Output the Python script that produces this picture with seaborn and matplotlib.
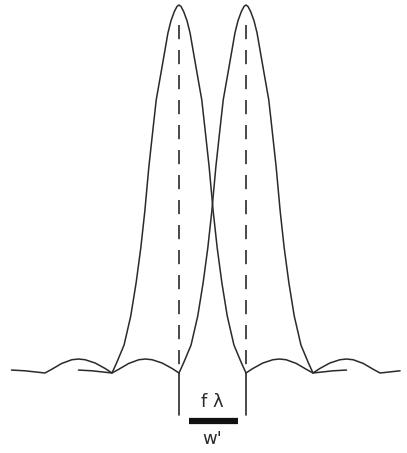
import numpy as np
import pandas as pd
import seaborn as sns
import matplotlib.pyplot as plt

# diffraction lobe profile (offset from peak in zero-spacings, height)
lobe_u = [0.0, 0.03, 0.07, 0.12, 0.165, 0.25, 0.34, 0.39, 0.45, 0.51, 0.57, 0.64, 0.72, 0.82, 0.93, 1.0,
          1.1, 1.25, 1.4, 1.5, 1.6, 1.75, 1.9, 2.0, 2.15, 2.3, 2.5]
lobe_h = [1.0, 0.996, 0.982, 0.957, 0.924, 0.835, 0.742, 0.66, 0.56, 0.44, 0.34, 0.245, 0.155, 0.076, 0.028, 0.0,
          0.012, 0.027, 0.036, 0.038, 0.036, 0.026, 0.01, 0.0, 0.003, 0.006, 0.008]

peak_centers = [-0.5, 0.5]
curve_left_reach = [2.5, 2.5]
curve_right_reach = [2.5, 2.3]
curve_names = ["left", "right"]
label_top = "f λ"
label_bottom = "w'"

sns.set_style("white")

fig = plt.figure(figsize=(4.07, 4.53), dpi=100)
ax = fig.add_axes([0, 0, 1, 1])

u = np.array(lobe_u)
h = np.array(lobe_h)
frames = []
for name, c, lo, hi in zip(curve_names, peak_centers, curve_left_reach, curve_right_reach):
    left = u[1:] <= lo
    right = u <= hi
    xs = np.concatenate([c - u[1:][left][::-1], c + u[right]])
    ys = np.concatenate([h[1:][left][::-1], h[right]])
    frames.append(pd.DataFrame({"x": xs, "y": ys, "curve": name}))
df = pd.concat(frames)

line_col = "#2a2a2a"
sns.lineplot(data=df, x="x", y="y", hue="curve", palette=[line_col, line_col],
             linewidth=1.1, legend=False, ax=ax, sort=False, estimator=None)

for c in peak_centers:
    # dashes drawn top-down so the first dash starts below the peak
    ax.plot([c, c], [0.945, 0.01], color=line_col, linewidth=1.2, linestyle=(0, (8.5, 6.5)))
    ax.plot([c, c], [-0.115, 0.0], color=line_col, linewidth=1.2)

ax.plot([-0.35, 0.38], [-0.131, -0.131], color="#111111", linewidth=4.5, solid_capstyle="butt")
ax.text(0.0, -0.08, label_top, ha="center", va="center", fontsize=13, color=line_col)
ax.text(0.0, -0.18, label_bottom, ha="center", va="center", fontsize=13, color=line_col)

ax.set_xlim(-212.5 / 67, 194.5 / 67)
ax.set_ylim(-80 / 368, 1 + 5 / 368)
ax.axis("off")

fig.savefig("out.png", dpi=100)
